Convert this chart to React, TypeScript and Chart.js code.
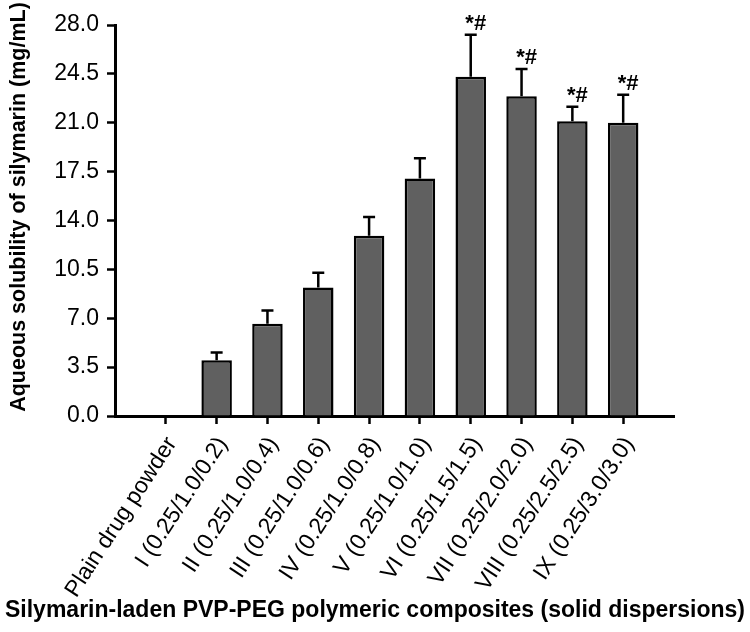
import React, { useEffect, useRef } from "react";
import { Chart, registerables } from "chart.js";

Chart.register(...registerables);

const categories = [
  "Plain drug powder",
  "I (0.25/1.0/0.2)",
  "II (0.25/1.0/0.4)",
  "III (0.25/1.0/0.6)",
  "IV (0.25/1.0/0.8)",
  "V (0.25/1.0/1.0)",
  "VI (0.25/1.5/1.5)",
  "VII (0.25/2.0/2.0)",
  "VIII (0.25/2.5/2.5)",
  "IX (0.25/3.0/3.0)",
];
const meanSolubility = [0.0, 4.0, 6.6, 9.2, 12.9, 17.0, 24.3, 22.9, 21.1, 21.0];
const errorSD = [0, 0.55, 0.95, 1.05, 1.35, 1.45, 3.0, 1.95, 1.05, 2.0];
const significance = ["", "", "", "", "", "", "*#", "*#", "*#", "*#"];
const yTicks = [0, 3.5, 7, 10.5, 14, 17.5, 21, 24.5, 28];
const yTitle = "Aqueous solubility of silymarin (mg/mL)";
const xTitle = "Silymarin-laden PVP-PEG polymeric composites (solid dispersions)";

const FONT = "'Liberation Sans', Arial, Helvetica, sans-serif";

const errorBarPlugin = {
  id: "errorBars",
  afterDatasetsDraw(chart: any) {
    const { ctx, scales } = chart;
    const xs = scales.x;
    const ys = scales.y;
    ctx.save();
    ctx.strokeStyle = "#000";
    ctx.lineWidth = 2.5;
    ctx.fillStyle = "#000";
    for (let i = 0; i < meanSolubility.length; i++) {
      const err = errorSD[i];
      const x = xs.getPixelForValue(i + 1);
      const yBase = ys.getPixelForValue(meanSolubility[i]);
      const yTop = ys.getPixelForValue(meanSolubility[i] + err);
      if (err > 0) {
        ctx.beginPath();
        ctx.moveTo(x, yBase);
        ctx.lineTo(x, yTop);
        ctx.moveTo(x - 6, yTop);
        ctx.lineTo(x + 6, yTop);
        ctx.stroke();
      }
      if (significance[i]) {
        ctx.font = `bold 22px ${FONT}`;
        ctx.textAlign = "center";
        ctx.textBaseline = "alphabetic";
        ctx.fillText(significance[i], x + 5, yTop - 5);
      }
    }
    ctx.restore();
  },
};

const titlesPlugin = {
  id: "axisTitles",
  afterDraw(chart: any) {
    const { ctx } = chart;
    ctx.save();
    ctx.fillStyle = "#000";
    ctx.textAlign = "center";
    ctx.textBaseline = "middle";
    ctx.font = `bold 21.5px ${FONT}`;
    ctx.translate(19, 207);
    ctx.rotate(-Math.PI / 2);
    ctx.fillText(yTitle, 0, 0);
    ctx.restore();
    ctx.save();
    ctx.fillStyle = "#000";
    ctx.textAlign = "center";
    ctx.textBaseline = "middle";
    ctx.font = `bold 23px ${FONT}`;
    ctx.fillText(xTitle, 375, 611);
    ctx.restore();
  },
};

export default function App() {
  const ref = useRef<HTMLCanvasElement | null>(null);
  useEffect(() => {
    if (!ref.current) return;
    const chart = new Chart(ref.current, {
      type: "bar",
      data: {
        datasets: [
          {
            data: meanSolubility.map((v, i) => ({ x: i + 1, y: v })),
            backgroundColor: "#606060",
            borderColor: "#000",
            borderWidth: 2.5,
            barPercentage: 0.6,
            categoryPercentage: 1,
          },
        ],
      },
      options: {
        animation: false,
        responsive: true,
        maintainAspectRatio: false,
        layout: { padding: { left: 0, right: 76, top: 25, bottom: 0 } },
        plugins: { legend: { display: false }, tooltip: { enabled: false }, title: { display: false } },
        scales: {
          x: {
            type: "linear",
            offset: false,
            min: 0,
            max: categories.length + 1,
            afterBuildTicks: (scale: any) => {
              scale.ticks = categories.map((_, i) => ({ value: i + 1 }));
            },
            afterFit: (scale: any) => {
              scale.height = 216;
            },
            ticks: {
              autoSkip: false,
              minRotation: 57,
              maxRotation: 57,
              padding: 8,
              labelOffset: 6,
              color: "#000",
              font: { family: FONT, size: 23 },
              callback: (v: any) => categories[Number(v) - 1] ?? "",
            },
            grid: { offset: false, drawOnChartArea: false, drawTicks: true, tickLength: 8, tickWidth: 2.5, tickColor: "#000" },
            border: { display: true, color: "#000", width: 3 },
          },
          y: {
            min: 0,
            max: 28,
            afterBuildTicks: (scale: any) => {
              scale.ticks = yTicks.map((v) => ({ value: v }));
            },
            afterFit: (scale: any) => {
              scale.width = 115;
            },
            ticks: {
              padding: 8,
              color: "#000",
              font: { family: FONT, size: 23 },
              callback: (v: any) => Number(v).toFixed(1),
            },
            grid: { drawOnChartArea: false, drawTicks: true, tickLength: 8, tickWidth: 2.5, tickColor: "#000" },
            border: { display: true, color: "#000", width: 3 },
          },
        },
      },
      plugins: [errorBarPlugin, titlesPlugin],
    });
    return () => chart.destroy();
  }, []);
  return (
    <div style={{ position: "fixed", left: 0, top: 0, width: 750, height: 632, background: "#fff" }}>
      <canvas ref={ref} />
    </div>
  );
}
